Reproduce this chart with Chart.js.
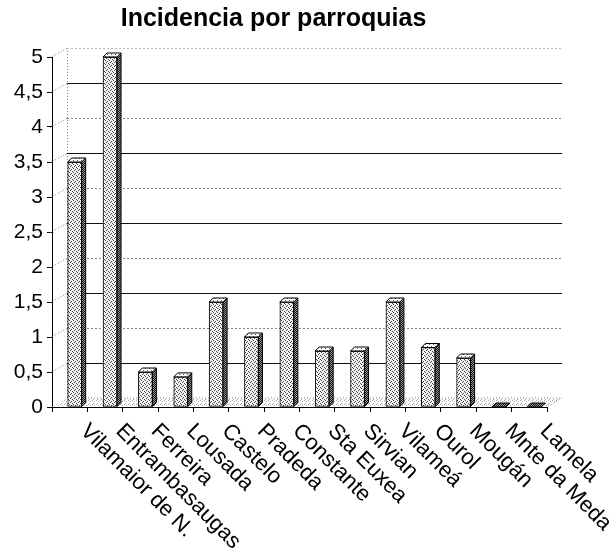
<!DOCTYPE html>
<html>
<head>
<meta charset="utf-8">
<script src="https://cdn.jsdelivr.net/npm/chart.js@4"></script>
<style>
html, body { margin: 0; padding: 0; background: #fff; }
#wrap { width: 613px; height: 553px; }
</style>
</head>
<body>
<div id="wrap"><canvas id="chart"></canvas></div>
<script>
const parroquias = ["Vilamaior de N.", "Entrambasaugas", "Ferreira", "Lousada", "Castelo", "Pradeda",
  "Constante", "Sta Euxea", "Sirvian", "Vilameá", "Ourol", "Mougán", "Mnte da Meda", "Lamela"];
const incidencia = [3.5, 5, 0.5, 0.43, 1.5, 1, 1.5, 0.8, 0.8, 1.5, 0.85, 0.7, 0, 0];
const yMax = 5;
const yStep = 0.5;

const FONT = "'Liberation Sans', Arial, sans-serif";

// little dotted patterns to imitate the printed stipple
function stipple(bg, ink, dots) {
  const c = document.createElement("canvas");
  c.width = 4; c.height = 4;
  const g = c.getContext("2d");
  g.fillStyle = bg;
  g.fillRect(0, 0, 4, 4);
  g.fillStyle = ink;
  dots.forEach(([px, py]) => g.fillRect(px, py, 1, 1));
  return g.createPattern(c, "repeat");
}
const ctx = document.getElementById("chart").getContext("2d");
const frontPat = stipple("#f4f4f4", "#444", [[0, 0], [2, 1], [1, 2], [3, 3]]);
const sidePat = stipple("#999", "#111", [[0, 0], [2, 0], [1, 1], [3, 1], [0, 2], [2, 2], [1, 3], [3, 3]]);
const topPat = stipple("#fff", "#555", [[0, 0], [2, 2]]);
const floorPat = stipple("#fff", "#aaa", [[0, 0], [2, 1], [1, 3]]);

const dx = 15, dy = 9;      // back wall offset
const barShift = 5;         // columns sit a bit right in their slot
const bd = 4;               // column depth

const look3d = {
  id: "look3d",
  beforeDatasetsDraw(chart) {
    const { ctx, chartArea: a, scales: { x, y } } = chart;
    const y0 = y.getPixelForValue(0);
    const yTop = y.getPixelForValue(yMax);
    ctx.save();
    // floor
    ctx.fillStyle = floorPat;
    ctx.beginPath();
    ctx.moveTo(a.left, y0);
    ctx.lineTo(a.left + dx, y0 - dy);
    ctx.lineTo(a.right + dx, y0 - dy);
    ctx.lineTo(a.right, y0);
    ctx.closePath();
    ctx.fill();
    ctx.strokeStyle = "#888";
    ctx.lineWidth = 1;
    ctx.setLineDash([1, 2]);
    ctx.beginPath();
    ctx.moveTo(a.left + dx, y0 - dy);
    ctx.lineTo(a.right + dx, y0 - dy);
    ctx.lineTo(a.right, y0);
    ctx.stroke();
    // side wall edge
    ctx.beginPath();
    ctx.moveTo(a.left + dx + 0.5, yTop - dy);
    ctx.lineTo(a.left + dx + 0.5, y0 - dy);
    ctx.stroke();
    // back wall grid
    for (let v = yStep; v <= yMax + 1e-9; v += yStep) {
      const py = Math.round(y.getPixelForValue(v)) + 0.5;
      const half = Math.round(v * 2) % 2 === 1;
      ctx.strokeStyle = "#777";
      ctx.setLineDash([1, 2]);
      ctx.beginPath();
      ctx.moveTo(a.left - 2, py);
      ctx.lineTo(a.left + dx, py - dy);
      ctx.stroke();
      ctx.strokeStyle = half ? "#111" : (v === yMax ? "#bbb" : "#888");
      ctx.setLineDash(half ? [] : [2, 2]);
      ctx.beginPath();
      ctx.moveTo(a.left + dx, py - dy);
      ctx.lineTo(a.right + dx, py - dy);
      ctx.stroke();
    }
    ctx.restore();
    ctx.save();
    ctx.translate(barShift, 0);
  },
  afterDatasetsDraw(chart) {
    const { ctx } = chart;
    const meta = chart.getDatasetMeta(0);
    ctx.strokeStyle = "#000";
    ctx.lineWidth = 1;
    meta.data.forEach(bar => {
      const { x, y, base, width } = bar.getProps(["x", "y", "base", "width"], true);
      const l = x - width / 2, r = x + width / 2;
      if (base - y > 0.5) {
        ctx.fillStyle = sidePat;
        ctx.beginPath();
        ctx.moveTo(r, y);
        ctx.lineTo(r + bd, y - bd);
        ctx.lineTo(r + bd, base - bd);
        ctx.lineTo(r, base);
        ctx.closePath();
        ctx.fill();
        ctx.stroke();
      }
      ctx.fillStyle = base - y > 0.5 ? topPat : sidePat;
      ctx.beginPath();
      ctx.moveTo(l, y);
      ctx.lineTo(l + bd, y - bd);
      ctx.lineTo(r + bd, y - bd);
      ctx.lineTo(r, y);
      ctx.closePath();
      ctx.fill();
      ctx.stroke();
    });
    ctx.restore();
  },
  afterDraw(chart) {
    const { ctx, scales: { x } } = chart;
    ctx.save();
    ctx.fillStyle = "#000";
    ctx.font = "22px " + FONT;
    ctx.textAlign = "left";
    ctx.textBaseline = "top";
    parroquias.forEach((name, i) => {
      ctx.save();
      ctx.translate(x.getPixelForValue(i) + 22, 420);
      ctx.rotate(Math.PI / 4);
      ctx.fillText(name, 0, 0);
      ctx.restore();
    });
    ctx.restore();
  }
};

new Chart(ctx, {
  type: "bar",
  data: {
    labels: parroquias,
    datasets: [{
      data: incidencia,
      backgroundColor: frontPat,
      borderColor: "#000",
      borderWidth: 1,
      borderSkipped: false,
      barThickness: 14
    }]
  },
  options: {
    responsive: true,
    maintainAspectRatio: false,
    animation: false,
    layout: { padding: { left: 0, right: 66, top: 0, bottom: 0 } },
    plugins: {
      legend: { display: false },
      tooltip: { enabled: false },
      title: {
        display: true,
        text: "Incidencia por parroquias",
        color: "#000",
        font: { family: FONT, size: 25, weight: "bold" },
        padding: { top: 4, bottom: 23 }
      }
    },
    scales: {
      x: {
        offset: true,
        grid: { display: true, drawOnChartArea: false, offset: true, color: "#000", tickLength: 5 },
        border: { display: true, color: "#000" },
        ticks: { display: false },
        afterFit: s => { s.height = 146; }
      },
      y: {
        min: 0,
        max: yMax,
        grid: { drawOnChartArea: false, color: "#000", tickLength: 5 },
        border: { display: true, color: "#000" },
        ticks: {
          stepSize: yStep,
          color: "#000",
          padding: 4,
          font: { family: FONT, size: 21 },
          callback: v => String(v).replace(".", ",")
        },
        afterFit: s => { s.width = 52; }
      }
    }
  },
  plugins: [look3d]
});
</script>
</body>
</html>
